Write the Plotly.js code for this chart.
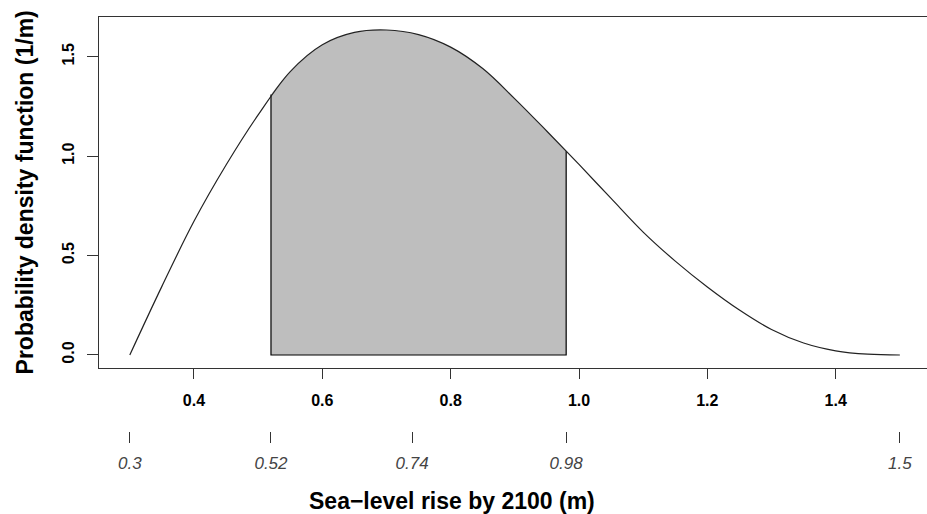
<!DOCTYPE html>
<html>
<head>
<meta charset="utf-8">
<script src="https://cdn.plot.ly/plotly-3.0.1.min.js"></script>
<style>html,body{margin:0;padding:0;overflow:hidden;background:#fff;}#chart{width:927px;height:514px;}</style>
</head>
<body>
<div id="chart"></div>
<script>
// Sea-level rise (m) and probability density (1/m)
const seaLevel = [0.30, 0.35, 0.40, 0.45, 0.50, 0.55, 0.60, 0.65, 0.70, 0.75, 0.80, 0.85, 0.90, 0.95, 1.00, 1.05, 1.10, 1.15, 1.20, 1.25, 1.30, 1.35, 1.40, 1.45, 1.50];
const density  = [0.000, 0.345, 0.672, 0.955, 1.207, 1.425, 1.560, 1.622, 1.634, 1.611, 1.548, 1.440, 1.288, 1.125, 0.958, 0.787, 0.618, 0.472, 0.342, 0.226, 0.128, 0.060, 0.021, 0.004, 0.000];
// shaded interval and the curve height at its two edges
const shadeBounds = [0.52, 0.98];
const shadeTop = [1.31, 1.024];
const xTickVals = [0.4, 0.6, 0.8, 1.0, 1.2, 1.4];
const xTickText = ["0.4", "0.6", "0.8", "1.0", "1.2", "1.4"];
const yTickVals = [0, 0.5, 1.0, 1.5];
const yTickText = ["0.0", "0.5", "1.0", "1.5"];
const secTickVals = [0.3, 0.52, 0.74, 0.98, 1.5];
const secTickText = ["0.3", "0.52", "0.74", "0.98", "1.5"];

const shadeX = [shadeBounds[0]], shadeY = [shadeTop[0]];
seaLevel.forEach((x, i) => { if (x > shadeBounds[0] + 1e-9 && x < shadeBounds[1] - 1e-9) { shadeX.push(x); shadeY.push(density[i]); } });
shadeX.push(shadeBounds[1]); shadeY.push(shadeTop[1]);

const FONT = "Liberation Sans, Arial, Helvetica, sans-serif";
const xRange = [0.252, 1.5423];

const traces = [
  { x: shadeX, y: shadeY, type: 'scatter', mode: 'lines', fill: 'tozeroy', fillcolor: '#BEBEBE',
    line: { shape: 'spline', color: 'rgba(0,0,0,0)', width: 0 }, hoverinfo: 'skip', showlegend: false },
  { x: [shadeBounds[0], shadeBounds[0], shadeBounds[1], shadeBounds[1]], y: [shadeTop[0], 0, 0, shadeTop[1]],
    type: 'scatter', mode: 'lines', line: { color: '#000', width: 1.2 }, hoverinfo: 'skip', showlegend: false },
  { x: seaLevel, y: density, type: 'scatter', mode: 'lines',
    line: { shape: 'spline', color: '#222', width: 1.2 }, showlegend: false },
  { x: [], y: [], xaxis: 'x2', type: 'scatter', mode: 'lines', showlegend: false }
];

const layout = {
  width: 927, height: 514,
  margin: { l: 99, r: 0, t: 17, b: 83 },
  paper_bgcolor: '#fff', plot_bgcolor: '#fff',
  font: { family: FONT, color: '#000' },
  xaxis: {
    range: xRange, showgrid: false, zeroline: false,
    showline: true, linecolor: '#333', linewidth: 1, mirror: true,
    ticks: 'outside', ticklen: 10, tickcolor: '#333', tickwidth: 1,
    tickvals: xTickVals, ticktext: xTickText,
    tickfont: { family: FONT, size: 16, weight: 'bold', color: '#000' },
    ticklabelstandoff: 8
  },
  xaxis2: {
    overlaying: 'x', anchor: 'free', position: 0, side: 'bottom',
    range: xRange, showgrid: false, zeroline: false, showline: false,
    ticks: 'outside', ticklen: 11, tickcolor: '#333', tickwidth: 1,
    tickvals: secTickVals, ticktext: secTickText,
    tickfont: { family: FONT, size: 17, style: 'italic', color: '#444' },
    ticklabelstandoff: 6
  },
  yaxis: {
    domain: [0.1522, 1],
    range: [-0.0654, 1.6994], showgrid: false, zeroline: false,
    showline: true, linecolor: '#333', linewidth: 1, mirror: false,
    ticks: 'outside', ticklen: 11, tickcolor: '#333', tickwidth: 1,
    tickvals: yTickVals, ticktext: yTickText, tickangle: -90,
    tickfont: { family: FONT, size: 16, weight: 'bold', color: '#000' },
    ticklabelstandoff: 7
  },
  annotations: [
    { text: 'Sea\u2212level rise by 2100 (m)', xref: 'paper', yref: 'paper', x: 0.4263, y: -0.168,
      xanchor: 'center', yanchor: 'middle', showarrow: false,
      font: { family: FONT, size: 23, weight: 'bold', color: '#000' } },
    { text: 'Probability density function (1/m)', xref: 'paper', yref: 'paper', x: -0.0895, y: 0.576,
      xanchor: 'center', yanchor: 'middle', showarrow: false, textangle: -90,
      font: { family: FONT, size: 23, weight: 'bold', color: '#000' } }
  ]
};

Plotly.newPlot('chart', traces, layout, { staticPlot: true, displayModeBar: false });
</script>
</body>
</html>
